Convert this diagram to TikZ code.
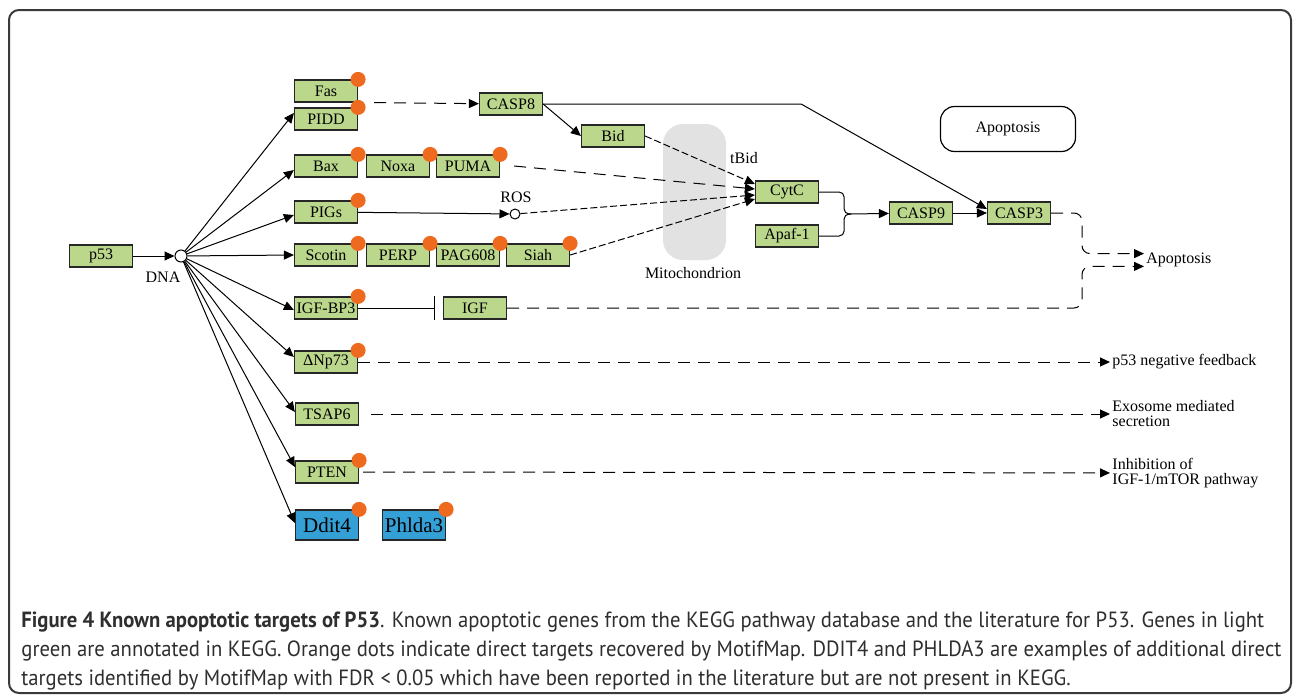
\documentclass[tikz,border=0pt]{standalone}
\usepackage{fontspec}
\setmainfont{Liberation Serif}
\newfontfamily\captionfont{PT Sans}[FakeStretch=0.94]
\usetikzlibrary{arrows.meta,shapes}
\definecolor{keggreen}{HTML}{BBD78C}
\definecolor{newblue}{HTML}{34A0D6}
\definecolor{motif}{HTML}{EE6A1E}
\definecolor{mitogray}{HTML}{E2E2E2}
\definecolor{framegray}{HTML}{3A3A3A}
\definecolor{captext}{HTML}{2E2E2E}
\tikzstyle{gene}=[rectangle,draw=black!85,fill=keggreen,line width=0.6pt,minimum width=31.5pt,minimum height=11pt,inner sep=0pt,font=\fontsize{8}{9}\selectfont]
\tikzstyle{newgene}=[gene,fill=newblue,minimum height=15pt,font=\fontsize{10.5}{12}\selectfont]
\tikzstyle{hit}=[circle,fill=motif,minimum size=7.5pt,inner sep=0pt]
\tikzstyle{compound}=[circle,draw,fill=white,line width=0.5pt,minimum size=6pt,inner sep=0pt]
\tikzstyle{tag}=[inner sep=1pt,font=\fontsize{8}{7.5}\selectfont]
\tikzstyle{edge} = [draw,line width=0.5pt,-{Triangle[length=5pt,width=4.5pt]}]
\tikzstyle{indirect} = [edge,dash pattern=on 6pt off 4pt]
\tikzstyle{fine} = [edge,dash pattern=on 3.5pt off 1.5pt]
\tikzstyle{capline}=[anchor=base west,inner sep=0pt,text=captext,font=\captionfont\fontsize{11}{13}\selectfont]

\begin{document}
\begin{tikzpicture}[x=0.5pt,y=-0.5pt]
    \useasboundingbox (0,0) rectangle (1293,696);
    \draw[framegray,line width=1pt,rounded corners=5pt] (9,10) rectangle (1291,693);

    % Mitochondrion and pathway box go behind everything
    \node[fill=mitogray,rounded corners=10pt,minimum width=31.5pt,minimum height=68pt] (mito) at (694.5,192) {};
    \node[tag] (mitolab) at (693,273) {Mitochondrion};
    \node[draw,line width=0.6pt,rounded corners=7pt,minimum width=67.5pt,minimum height=22.5pt,font=\fontsize{8}{9}\selectfont] (pathway) at (1008,129) {Apoptosis};

    % First we draw the genes
    \foreach \pos/\name/\txt in {{(101,256)/p53/p53}, {(326,91)/fas/Fas}, {(326,119)/pidd/PIDD},
        {(326,166)/bax/Bax}, {(398,166)/noxa/Noxa}, {(468,166)/puma/PUMA}, {(326,212)/pigs/PIGs},
        {(326,255)/scotin/Scotin}, {(398,255)/perp/PERP}, {(468,255)/pag608/PAG608}, {(538,255)/siah/Siah},
        {(326,308)/igfbp3/IGF-BP3}, {(475,308)/igf/IGF}, {(326,362)/dnp73/ΔNp73}, {(327,414)/tsap6/TSAP6},
        {(327,472)/pten/PTEN}, {(511,104)/casp8/CASP8}, {(613,136)/bid/Bid}, {(787,192)/cytc/CytC},
        {(787,236)/apaf/Apaf-1}, {(921,213)/casp9/CASP9}, {(1019,213)/casp3/CASP3}}
        \node[gene] (\name) at \pos {\txt};
    \node[newgene] (ddit4) at (327,525) {Ddit4};
    \node[newgene] (phlda3) at (414,525) {Phlda3};

    % compounds and small labels
    \node[compound] (dna) at (181,256) {};
    \node[tag] (dnalab) at (163,277) {DNA};
    \node[compound,minimum size=5pt] (ros) at (515,214) {};
    \node[tag] (roslab) at (516,197) {ROS};
    \node[tag] (tbid) at (744,158) {tBid};

    % outcomes on the right
    \node[tag,anchor=west] (apo) at (1144,260) {Apoptosis};
    \node[tag,anchor=west] (feedback) at (1110,362) {p53 negative feedback};
    \node[tag,anchor=west,align=left] (exosome) at (1110,414) {Exosome mediated\\secretion};
    \node[tag,anchor=west,align=left] (mtor) at (1110,473) {Inhibition of\\IGF-1/mTOR pathway};
    \coordinate (apo top) at ([yshift=3.2pt]apo.west);
    \coordinate (apo bottom) at ([yshift=-3.2pt]apo.west);
    \coordinate (join) at (849,214);

    % Connect p53 to its targets
    \path[edge] (p53) -- (dna);
    \foreach \dest/\dy in {pidd/3, bax/-2, pigs/-1.5, scotin/0, igfbp3/-1, dnp73/2.5, tsap6/1, pten/2.5, ddit4/1}
        \path[edge] (dna) -- ([yshift=\dy pt]\dest.west);

    % Caspase cascade
    \path[indirect] ([xshift=8pt]fas.south east) -- (casp8);
    \path[edge] (casp8.east) -- (bid.west);
    \path[edge] (casp8.east) -- ++(258,0) -- ([yshift=2pt]casp3.west);
    \path[fine] (bid.east) -- ([yshift=4pt]cytc.west);
    \path[indirect] ([xshift=7pt]puma.east) -- ([yshift=1.5pt]cytc.west);
    \path[edge] (pigs) -- (ros);
    \path[fine] (ros) -- ([yshift=-1.5pt]cytc.west);
    \path[fine] (siah.east) -- ([yshift=-3.5pt]cytc.west);
    \path[draw,line width=0.5pt,-{Bar[width=12pt]},shorten >=4pt] (igfbp3) -- (igf);
    \draw[line width=0.5pt,rounded corners=2.5pt] (cytc.east) -- ++(25,0) |- (join);
    \draw[line width=0.5pt,rounded corners=2.5pt] (apaf.east) -- ++(25,0) |- (join);
    \path[edge] (join) -- (casp9);
    \path[edge] (casp9) -- (casp3);
    \path[indirect,rounded corners=4pt] (casp3.east) -| ([xshift=-31pt]apo top) -- (apo top);
    \path[indirect,rounded corners=4pt] (igf.east) -| ([xshift=-31pt]apo bottom) -- (apo bottom);
    \path[indirect] (dnp73.east) -- (feedback);
    \path[indirect] ([xshift=6pt]tsap6.east) -- (exosome);
    \path[indirect] ([xshift=2pt]pten.east) -- (mtor);

    % Orange dots: direct targets from MotifMap
    \foreach \name in {fas,pidd,bax,noxa,puma,pigs,scotin,perp,pag608,siah,igfbp3,dnp73,pten,ddit4,phlda3}
        \node[hit] (hit-\name) at (\name.north east) {};

    % Caption
    \node[capline] (cap1) at (21,627) {\textbf{Figure 4 Known apoptotic targets of P53}. Known apoptotic genes from the KEGG pathway database and the literature for P53. Genes in light};
    \node[capline] (cap2) at (21,656) {green are annotated in KEGG. Orange dots indicate direct targets recovered by MotifMap. DDIT4 and PHLDA3 are examples of additional direct};
    \node[capline] (cap3) at (21,685) {targets identified by MotifMap with FDR < 0.05 which have been reported in the literature but are not present in KEGG.};
\end{tikzpicture}
\end{document}
